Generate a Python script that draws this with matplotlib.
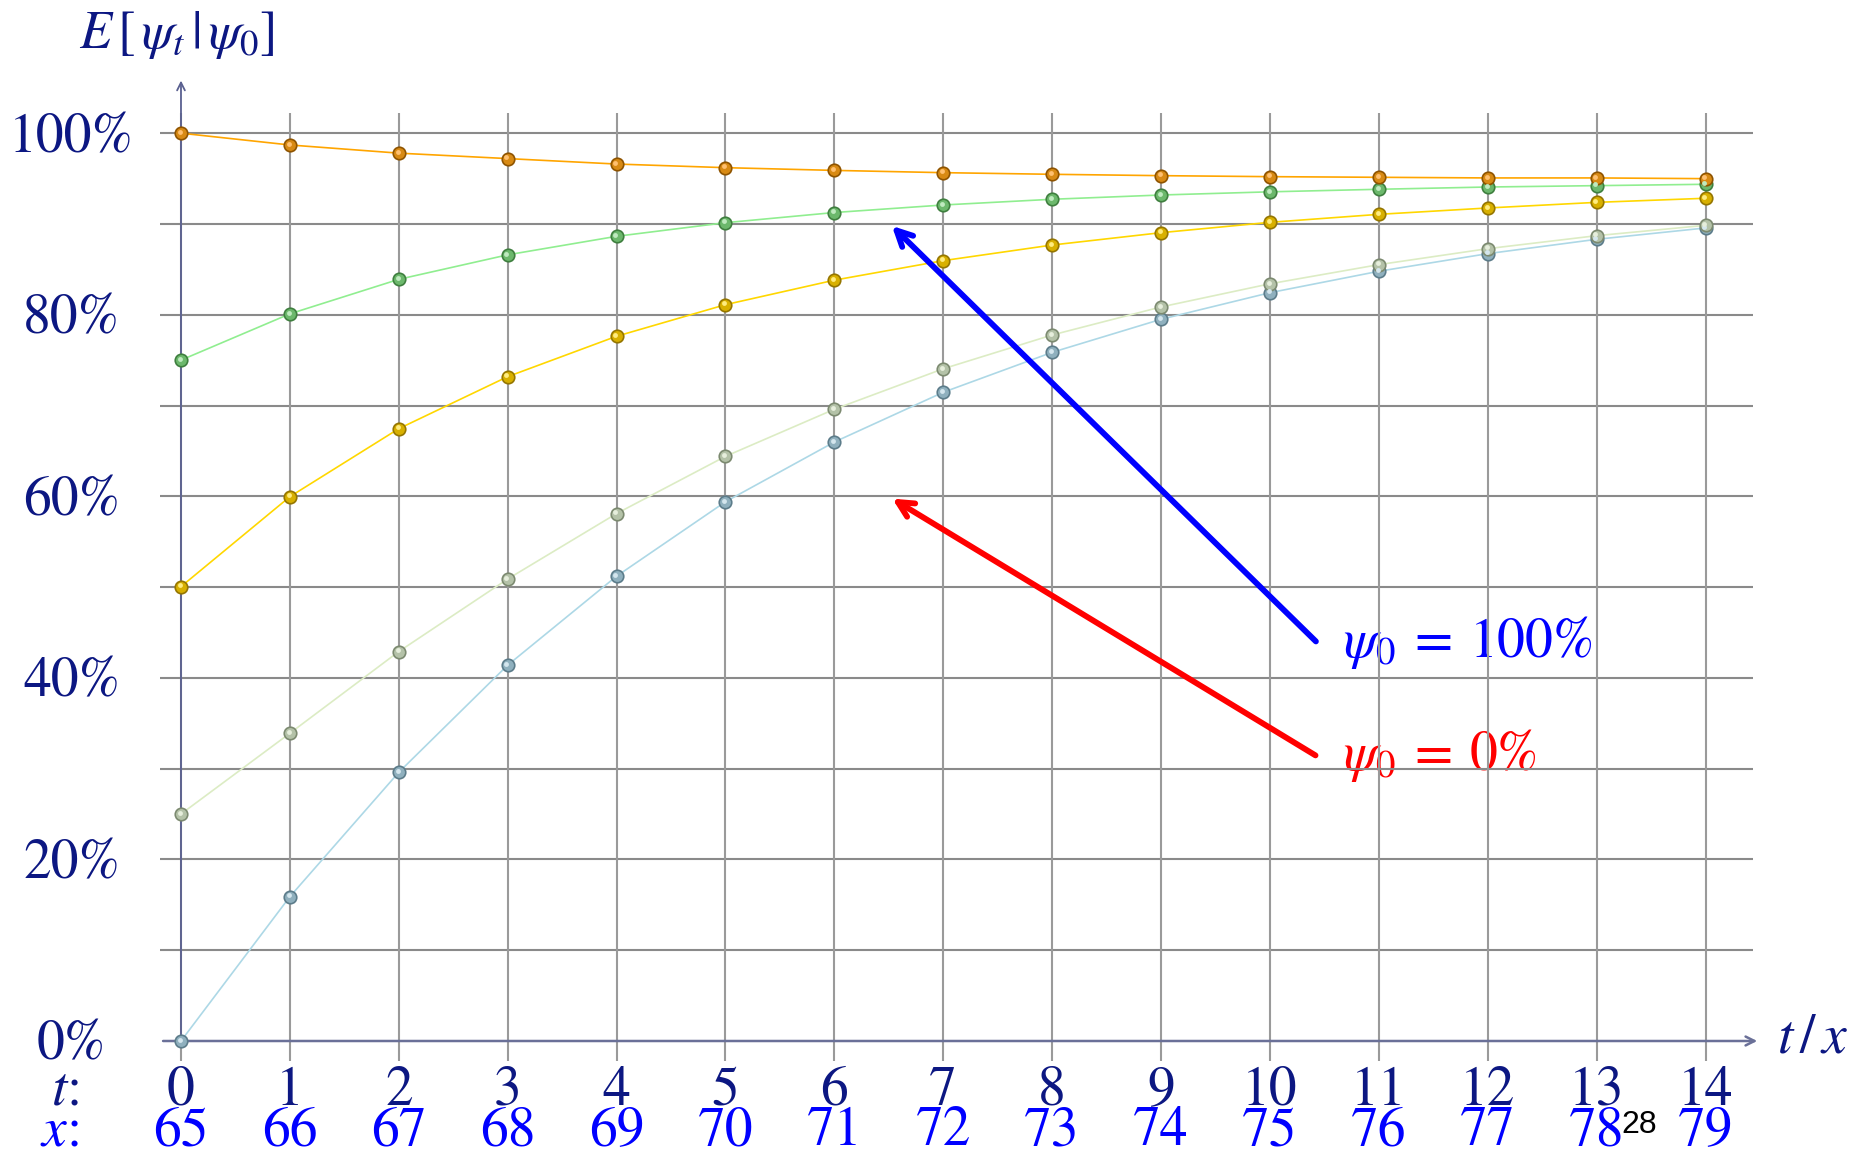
import numpy as np
import matplotlib
matplotlib.use('Agg')
from matplotlib import pyplot as plt
from matplotlib import transforms

plt.rcParams['mathtext.fontset'] = 'stix'
plt.rcParams['font.family'] = ['STIXGeneral', 'DejaVu Sans']

# data
t = list(range(15))
ages = list(range(65, 80))
y_ticks = [0, 20, 40, 60, 80, 100]

psi_100 = [100, 98.7, 97.8, 97.2, 96.6, 96.2, 95.9, 95.65, 95.47, 95.32, 95.21, 95.14, 95.07, 95.07, 94.99]
psi_75 = [75.0, 80.1, 83.9, 86.6, 88.64, 90.14, 91.26, 92.09, 92.72, 93.19, 93.54, 93.82, 94.07, 94.22, 94.37]
psi_50 = [50.05, 59.96, 67.45, 73.18, 77.63, 81.11, 83.81, 85.96, 87.68, 89.04, 90.18, 91.06, 91.76, 92.38, 92.83]
psi_25 = [25.0, 33.9, 42.9, 50.89, 58.1, 64.4, 69.59, 74.05, 77.77, 80.86, 83.41, 85.52, 87.28, 88.71, 89.85]
psi_0 = [0.0, 15.9, 29.6, 41.4, 51.2, 59.4, 65.98, 71.46, 75.86, 79.50, 82.43, 84.79, 86.73, 88.31, 89.56]

series = [psi_0, psi_25, psi_50, psi_75, psi_100]
line_cols = ['#add8e6', '#dcecc4', '#ffd700', '#90ee90', '#ffa500']
dot_cols = ['#8fb0be', '#b4c2a8', '#d8b000', '#6cb86c', '#d88a14']
edge_cols = ['#5c7c8a', '#7c8a70', '#957600', '#3f7f3f', '#8f5400']
hi_cols = ['#d4e6ee', '#e6eedc', '#ffec80', '#bfeabf', '#ffc070']

navy = '#0c1782'
fs = 40

fig = plt.figure(figsize=(18.65, 11.54), dpi=100)
ax = fig.add_axes([0, 0, 1, 1])
ax.set_xlim(-1.662, 15.464)
ax.set_ylim(-12.448, 114.67)
ax.axis('off')

# grid
ax.hlines(np.arange(10, 101, 10), -0.19, 14.44, color='#8a8a8a', lw=1.5, zorder=2)
ax.vlines(range(0, 15), -2.2, 102.2, color='#9a9a9a', lw=1.5, zorder=2)

# axes with arrows
ax.annotate('', xy=(0, 106.1), xytext=(0, 0),
            arrowprops=dict(arrowstyle='->', color='#5a6090', lw=1.3, mutation_scale=14), zorder=3)
ax.annotate('', xy=(14.5, 0), xytext=(-0.19, 0),
            arrowprops=dict(arrowstyle='->', color='#6a7098', lw=1.8, mutation_scale=16), zorder=3)

# series
hi = transforms.offset_copy(ax.transData, fig=fig, x=-1.2, y=1.2, units='dots')
for s, lc, dc, ec, hc in zip(series, line_cols, dot_cols, edge_cols, hi_cols):
    ax.plot(t, s, color=lc, lw=1.2, zorder=4)
    ax.plot(t, s, 'o', ms=9, mfc=dc, mec=ec, mew=1.2, zorder=5)
    ax.plot(t, s, 'o', ms=3.5, mfc=hc, mec='none', zorder=6, transform=hi)

# tick labels
for v in y_ticks:
    ax.text(-1.006, v - 2.07, f'{v}%', ha='center', va='baseline', fontsize=fs, color=navy, zorder=1)
for i, a in zip(t, ages):
    ax.text(i, -7.05, str(i), ha='center', va='baseline', fontsize=fs, color=navy, zorder=1)
    ax.text(i, -11.46, str(a), ha='center', va='baseline', fontsize=fs, color='#0000ff', zorder=1)
ax.text(-0.94, -7.05, r'$t$:', ha='right', va='baseline', fontsize=fs, color=navy)
ax.text(-0.94, -11.46, r'$x$:', ha='right', va='baseline', fontsize=fs, color='#0000ff')

ax.text(-0.04, 109.4, r'$E\,[\,\psi_t\,|\,\psi_0]$', ha='center', va='baseline', fontsize=38, color=navy)
ax.text(14.66, -1.32, r'$t\,/\,x$', ha='left', va='baseline', fontsize=fs, color=navy)

# annotations
ax.annotate('', xy=(6.51, 90.0), xytext=(10.44, 43.8),
            arrowprops=dict(arrowstyle='->', color='#0000ff', lw=4.2, mutation_scale=28), zorder=7)
ax.annotate('', xy=(6.51, 59.9), xytext=(10.44, 31.3),
            arrowprops=dict(arrowstyle='->', color='#ff0000', lw=4.2, mutation_scale=28), zorder=7)
ax.text(10.67, 42.3, r'$\psi_0\:=\:100\%$', ha='left', va='baseline', fontsize=fs, color='#0000ff', zorder=1)
ax.text(10.67, 29.85, r'$\psi_0\:=\:0\%$', ha='left', va='baseline', fontsize=fs, color='#ff0000', zorder=1)

ax.text(13.23, -10.13, '28', ha='left', va='baseline', fontsize=23, color='black',
        family='Liberation Sans', zorder=8)

fig.savefig('out.png', dpi=100)
